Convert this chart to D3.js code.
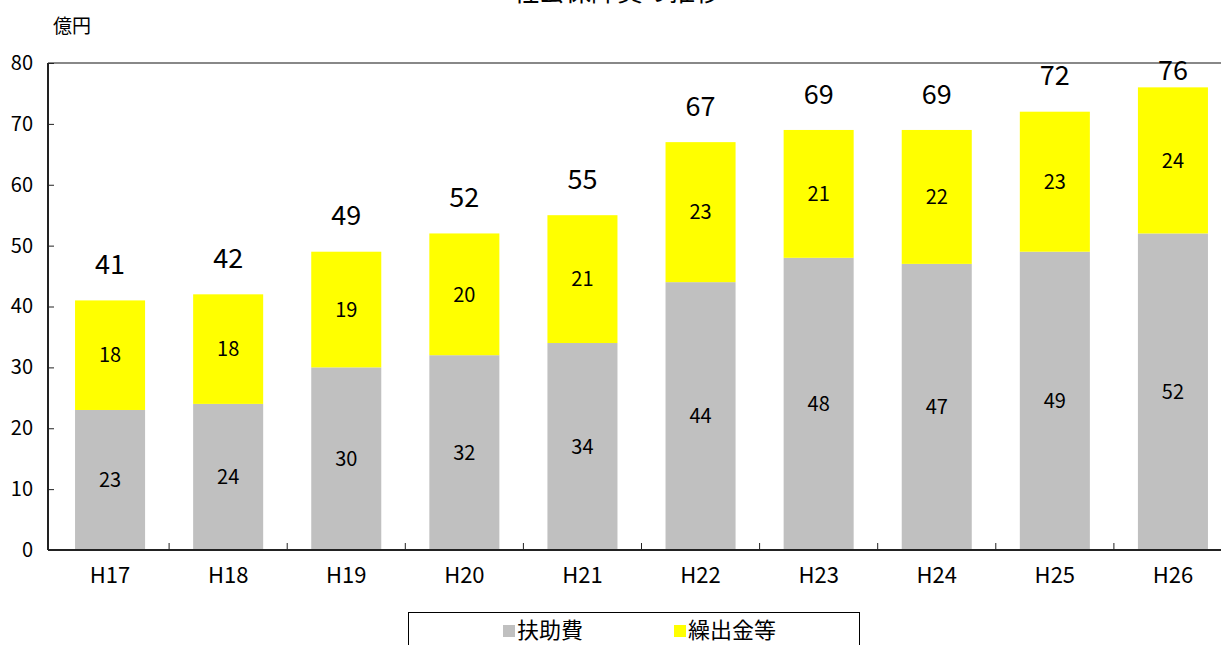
<!DOCTYPE html>
<html>
<head>
<meta charset="utf-8">
<script src="https://cdn.jsdelivr.net/npm/d3@7"></script>
<style>
  body { margin: 0; background: #fff; }
  svg { display: block; font-family: "Noto Sans CJK JP", "Noto Sans", sans-serif; }
</style>
</head>
<body>
<svg width="1221" height="645"></svg>
<script>
let years = ["H17", "H18", "H19", "H20", "H21", "H22", "H23", "H24", "H25", "H26"];
let fujo = [23, 24, 30, 32, 34, 44, 48, 47, 49, 52];      // 扶助費
let kuridashi = [18, 18, 19, 20, 21, 23, 21, 22, 23, 24]; // 繰出金等
let totals = [41, 42, 49, 52, 55, 67, 69, 69, 72, 76];
let yTicks = [0, 10, 20, 30, 40, 50, 60, 70, 80];

let s = d3.select("svg");

let pLeft = 48, pTop = 63, pBottom = 550, pRight = 1235;

let x = d3.scaleBand().domain(years).range([pLeft, pRight]).paddingInner(0.407).paddingOuter(0.229);
let y = d3.scaleLinear().domain([0, 80]).range([pBottom, pTop]);

// タイトル（上が切れている）
s.append("text")
    .attr("x", 617)
    .attr("y", 1)
    .attr("text-anchor", "middle")
    .attr("style", "font-size: 26px")
    .text("社会保障費の推移");

// 単位
s.append("text")
    .attr("x", 53)
    .attr("y", 26)
    .attr("dy", "0.36em")
    .attr("style", "font-size: 19px")
    .text("億円");

// 枠線（上）
s.append("line")
    .attr("x1", pLeft).attr("x2", pRight)
    .attr("y1", pTop).attr("y2", pTop)
    .attr("stroke", "#888").attr("stroke-width", 2);

// 棒
let rows = years.map((d, i) => ({ year: d, a: fujo[i], b: kuridashi[i], t: totals[i] }));

let g = s.append("g");
rows.forEach(r => {
    g.append("rect")
        .attr("x", x(r.year)).attr("width", x.bandwidth())
        .attr("y", y(r.a)).attr("height", y(0) - y(r.a))
        .attr("fill", "#c0c0c0");
    g.append("rect")
        .attr("x", x(r.year)).attr("width", x.bandwidth())
        .attr("y", y(r.a + r.b)).attr("height", y(r.a) - y(r.a + r.b))
        .attr("fill", "#ffff00");

    let cx = x(r.year) + x.bandwidth() / 2;
    g.append("text")
        .attr("x", cx).attr("y", y(r.a / 2))
        .attr("dy", "0.36em")
        .attr("text-anchor", "middle")
        .attr("style", "font-size: 20px")
        .text(r.a);
    g.append("text")
        .attr("x", cx).attr("y", y(r.a + r.b / 2))
        .attr("dy", "0.36em")
        .attr("text-anchor", "middle")
        .attr("style", "font-size: 20px")
        .text(r.b);
    g.append("text")
        .attr("x", cx).attr("y", Math.max(y(r.t) - 36, y(80) + 7))
        .attr("dy", "0.36em")
        .attr("text-anchor", "middle")
        .attr("style", "font-size: 27px")
        .text(r.t);
});

// Y軸
let yAxis = s.append("g")
    .attr("transform", "translate(" + pLeft + ",0)")
    .call(d3.axisRight(y).tickValues(yTicks).tickSize(6).tickFormat(d3.format("d")));
yAxis.select(".domain").attr("stroke", "#222").attr("stroke-width", 2).attr("d", "M0," + pTop + "V" + pBottom);
yAxis.selectAll(".tick line").attr("stroke", "#222");
yAxis.selectAll(".tick text")
    .attr("x", -15)
    .attr("text-anchor", "end")
    .attr("style", "font-size: 20px; font-family: 'Noto Sans CJK JP', sans-serif")
    .attr("fill", "#000");

// X軸
let xAxis = s.append("g")
    .attr("transform", "translate(0," + pBottom + ")")
    .call(d3.axisBottom(x).tickSize(0).tickPadding(17));
xAxis.select(".domain").attr("stroke", "#222").attr("stroke-width", 2).attr("d", "M" + pLeft + ",0H" + pRight);
xAxis.selectAll(".tick text")
    .attr("style", "font-size: 22px; font-family: 'Noto Sans CJK JP', sans-serif")
    .attr("fill", "#000");

// 区切り目盛り
years.slice(1).forEach(d => {
    s.append("line")
        .attr("x1", x(d) - x.step() * x.paddingInner() / 2)
        .attr("x2", x(d) - x.step() * x.paddingInner() / 2)
        .attr("y1", pBottom).attr("y2", pBottom - 7)
        .attr("stroke", "#222");
});

// 凡例
s.append("rect")
    .attr("x", 408.5).attr("y", 612.5)
    .attr("width", 451).attr("height", 40)
    .attr("fill", "#fff").attr("stroke", "#000");

let legend = [{ name: "扶助費", color: "#c0c0c0", x: 503 }, { name: "繰出金等", color: "#ffff00", x: 674 }];
legend.forEach(l => {
    s.append("rect")
        .attr("x", l.x).attr("y", 625)
        .attr("width", 12).attr("height", 12)
        .attr("fill", l.color);
    s.append("text")
        .attr("x", l.x + 14).attr("y", 630)
        .attr("dy", "0.36em")
        .attr("style", "font-size: 22px")
        .text(l.name);
});
</script>
</body>
</html>
